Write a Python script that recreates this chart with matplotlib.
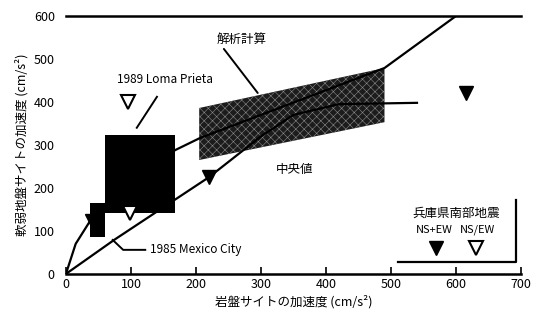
import matplotlib
matplotlib.use("Agg")
import matplotlib.pyplot as plt

plt.rcParams['font.family'] = ['Noto Sans CJK JP', 'DejaVu Sans']
plt.rcParams['hatch.linewidth'] = 0.4

# curves
upper_x = [0, 15, 40, 90, 168, 206, 490, 600]
upper_y = [0, 70, 130, 210, 288, 316, 479, 600]
median_x = [0, 75, 220, 300, 350, 420, 540]
median_y = [0, 80, 225, 320, 370, 395, 398]

# analysis band
band_x = [205, 490]
band_lo = [265, 353]
band_hi = [386, 479]

# observed ranges (x0, x1, y0, y1)
loma_box = (60, 168, 142, 323)
mexico_box = (37, 60, 86, 165)

# Hyogo-ken Nanbu points
filled_x = [40, 220, 615]
filled_y = [122, 225, 421]
open_x = [95, 98]
open_y = [400, 142]

x_ticks = [0, 100, 200, 300, 400, 500, 600, 700]
y_ticks = [0, 100, 200, 300, 400, 500, 600]


def draw_box(ax, box):
    x0, x1, y0, y1 = box
    ax.fill_between([x0, x1], [y0, y0], [y1, y1], color="black", lw=0, zorder=2)


fig = plt.figure(figsize=(5.36, 3.2), dpi=100)
ax = fig.add_axes([0.123, 0.144, 0.849, 0.806])

ax.fill_between(band_x, band_lo, band_hi, facecolor="#1c1c1c",
                edgecolor="#8a8a8a", hatch="xxxx", lw=0, zorder=1)
draw_box(ax, loma_box)
draw_box(ax, mexico_box)

ax.plot(upper_x, upper_y, color="black", lw=1.6, zorder=3)
ax.plot(median_x, median_y, color="black", lw=1.6, zorder=3)

ax.plot(filled_x, filled_y, "v", ms=10, color="black", zorder=4)
ax.plot(open_x, open_y, "v", ms=10, mfc="white", mec="black", mew=1.5, zorder=4)

# labels
ax.annotate("解析計算", xy=(295, 421), xytext=(232, 545), fontsize=9,
            va="center", ha="left",
            arrowprops=dict(arrowstyle="-", color="black", lw=1.4,
                            shrinkA=0, shrinkB=0, relpos=(0, 0.5)))
ax.text(152, 438, "1989 Loma Prieta", fontsize=8.5, ha="center", va="bottom")
ax.plot([140, 109], [412, 340], color="black", lw=1.4, zorder=3)
ax.plot([72, 88, 122], [79, 56, 56], color="black", lw=1.4, zorder=3)
ax.text(129, 56, "1985 Mexico City", fontsize=8.5, va="center", ha="left")
ax.text(352, 242, "中央値", fontsize=9, va="center", ha="center")

# legend block
ax.plot([692, 692, 511], [172, 28, 28], color="black", lw=1.6, clip_on=False)
ax.text(600, 142, "兵庫県南部地震", fontsize=9, ha="center", va="center")
ax.text(566, 102, "NS+EW", fontsize=8, ha="center", va="center")
ax.text(633, 102, "NS/EW", fontsize=8, ha="center", va="center")
ax.plot([569], [60], "v", ms=10, color="black", clip_on=False)
ax.plot([631], [60], "v", ms=10, mfc="white", mec="black", mew=1.5, clip_on=False)

ax.set_xlim(0, 700)
ax.set_ylim(0, 600)
ax.set_xticks(x_ticks)
ax.set_yticks(y_ticks)
ax.tick_params(axis="x", direction="in", length=5, width=1.2, labelsize=9, pad=3)
ax.tick_params(axis="y", length=0, labelsize=9, pad=8)
for side in ["left", "right"]:
    ax.spines[side].set_visible(False)
ax.spines["bottom"].set_linewidth(1.8)
ax.spines["top"].set_linewidth(1.8)

ax.set_xlabel("岩盤サイトの加速度 (cm/s²)", fontsize=9, labelpad=3)
ax.set_ylabel("軟弱地盤サイトの加速度 (cm/s²)", fontsize=9, labelpad=4)

fig.savefig("out.png", dpi=100)
